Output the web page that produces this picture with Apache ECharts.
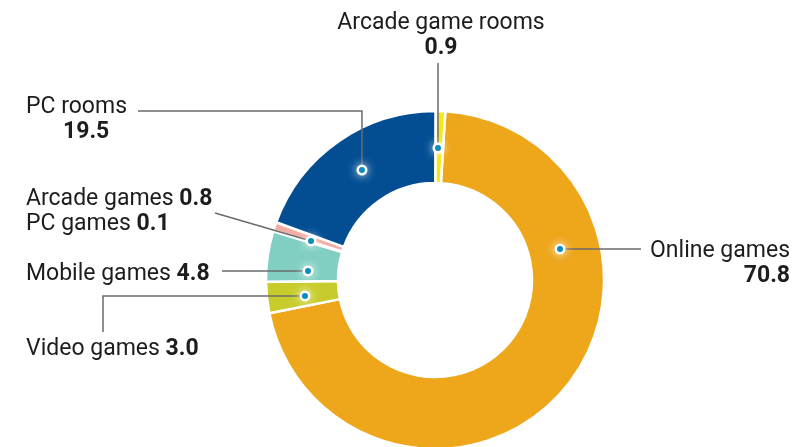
<!DOCTYPE html>
<html><head><meta charset="utf-8">
<script src="https://cdn.jsdelivr.net/npm/echarts@6/dist/echarts.min.js"></script>
<style>html,body{margin:0;padding:0;background:#fff}#c{width:807px;height:447px}</style>
</head><body><div id="c"></div>
<script>
// ---- data ----
const categories = ['Online games','Video games','Mobile games','PC games','Arcade games','PC rooms','Arcade game rooms'];
const values = [70.8, 3.0, 4.8, 0.1, 0.8, 19.5, 0.9];

// ---- styles / layout ----
const colors = ['#EEA61B','#C7CC2C','#80CFC2','#F4ADA3','#F4ADA3','#034E93','#F7E61C'];
const CX = 435, CY = 280, R0 = 97, R1 = 169;
const startAngle = 86.5;
// anchor angle (deg, ccw from east) and radius of each marker on the ring
const anchorAngle = [13.9, 187.0, 175.9, null, 162.5, 123.6, 88.7];
const anchorR = [128.8, 131, 127.3, null, 130, 132, 132];
// label box placement
const labelPos = [
  {x: 790, y: 239, align: 'right'},
  {x: 26, y: 336.5, align: 'left'},
  {x: 26, y: 262, align: 'left'},
  null,
  {x: 26, y: 187, align: 'left'},
  {x: 26, y: 95, align: 'left'},
  {x: 441, y: 11, align: 'center'}
];

function anchor(i) {
  const a = anchorAngle[i] * Math.PI / 180;
  return [CX + anchorR[i] * Math.cos(a), CY - anchorR[i] * Math.sin(a)];
}
const v = i => values[i].toFixed(1);
const labelText = [
  `{n|${categories[0]}}\n{b|${v(0)}}`,
  `{n|${categories[1]} }{b|${v(1)}}`,
  `{n|${categories[2]} }{b|${v(2)}}`,
  '',
  `{n|${categories[4]} }{b|${v(4)}}\n{n|${categories[3]} }{b|${v(3)}}`,
  `{n|${categories[5]}}\n{bi|${v(5)}}`,
  `{n|${categories[6]}}\n{b|${v(6)}}`
];

// leader line paths (marker first)
function leader(i) {
  const p = anchor(i);
  switch (i) {
    case 0: return [p, [641, p[1]]];
    case 1: return [p, [103, p[1]], [103, 332]];
    case 2: return [p, [222, p[1]]];
    case 4: return [p, [215, 213]];
    case 5: return [p, [p[0], 111], [138, 111]];
    case 6: return [p, [p[0], 63]];
  }
  return null;
}

const graphics = [];
for (let i = 0; i < categories.length; i++) {
  const pts = leader(i);
  if (!pts) continue;
  graphics.push({type: 'polyline', silent: true, z: 10,
    shape: {points: pts}, style: {stroke: '#6b6b6b', lineWidth: 1.5, fill: null}});
}
for (let i = 0; i < categories.length; i++) {
  if (anchorAngle[i] == null) continue;
  const p = anchor(i);
  graphics.push({type: 'circle', silent: true, z: 11,
    shape: {cx: p[0], cy: p[1], r: 5.5},
    style: {fill: '#fff', shadowBlur: 10, shadowColor: 'rgba(255,255,255,0.9)'}});
  graphics.push({type: 'circle', silent: true, z: 12,
    shape: {cx: p[0], cy: p[1], r: 3},
    style: {fill: '#0A8CBF'}});
}

const FS = 23, LH = 25;
const chart = echarts.init(document.getElementById('c'), null, {renderer: 'canvas'});
chart.setOption({
  animation: false,
  backgroundColor: '#fff',
  textStyle: {fontFamily: 'Roboto'},
  graphic: graphics,
  series: [{
    type: 'pie',
    silent: true,
    center: [CX, CY],
    radius: [R0, R1],
    startAngle: startAngle,
    clockwise: true,
    avoidLabelOverlap: false,
    itemStyle: {borderColor: '#fff', borderWidth: 2.5},
    label: {
      show: true,
      position: 'outside',
      color: '#1d1d1d',
      formatter: p => labelText[p.dataIndex],
      rich: {
        n: {fontFamily: 'Roboto', fontSize: FS, color: '#1d1d1d', lineHeight: LH},
        b: {fontFamily: 'Roboto', fontSize: FS, fontWeight: 'bold', color: '#1d1d1d', lineHeight: LH},
        bi: {fontFamily: 'Roboto', fontSize: FS, fontWeight: 'bold', color: '#1d1d1d', lineHeight: LH, padding: [0, 0, 0, 37]}
      }
    },
    labelLine: {show: false},
    labelLayout: function (p) {
      const L = labelPos[p.dataIndex];
      if (!L) return {x: -100, y: -100};
      return {x: L.x, y: L.y, align: L.align, verticalAlign: 'top'};
    },
    data: categories.map((c, i) => ({
      name: c, value: values[i],
      itemStyle: {color: colors[i]},
      label: i === 3 ? {show: false} : undefined
    }))
  }]
});
</script>
</body></html>
